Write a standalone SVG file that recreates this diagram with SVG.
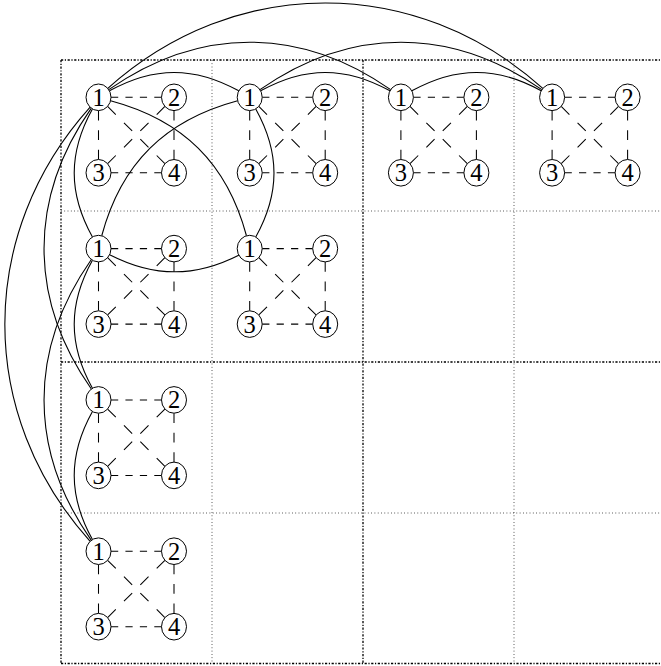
<svg xmlns="http://www.w3.org/2000/svg" width="661" height="666" viewBox="0 0 661 666">
<style>
.bg{fill:#ffffff}
.dashdot{fill:none;stroke:#000;stroke-width:1.3;stroke-dasharray:2.2 1.6 1.2 1.6}
.dotted{fill:none;stroke:#000;stroke-width:0.8;stroke-dasharray:0.8 2.5}
.arc{fill:none;stroke:#000;stroke-width:1.1}
.h{fill:none;stroke:#000;stroke-width:1.05;stroke-dasharray:7.214 7.214}
.v{fill:none;stroke:#000;stroke-width:1.05;stroke-dasharray:9.78 9.78}
.d{fill:none;stroke:#000;stroke-width:1.05;stroke-dasharray:11.57 11.57}
.node ellipse{fill:#ffffff;stroke:#000;stroke-width:1}
.node text{font-family:"Liberation Serif","DejaVu Serif",serif;font-size:24.5px;text-anchor:middle;fill:#000}
</style>
<rect class="bg" x="0" y="0" width="661" height="666"/>
<g id="grid">
<path class="dotted" d="M212,60 V663.5 M514,60 V663.5 M61,211 H665 M61,513 H665"/>
<path class="dashdot" d="M61,60 H665 M61,60 V663.5 M61,663.5 H665 M363,60 V663.5 M61,362 H665"/>
</g>
<g id="connectors">
<g id="arcs">
<path class="arc" d="M109.43,90.85 C153.71,66.30 194.49,66.30 238.77,90.85"/>
<path class="arc" d="M260.63,90.85 C304.91,66.30 345.69,66.30 389.97,90.85"/>
<path class="arc" d="M411.83,90.85 C456.11,66.30 496.89,66.30 541.17,90.85"/>
<path class="arc" d="M108.74,89.67 C199.15,26.36 300.25,26.36 390.66,89.67"/>
<path class="arc" d="M259.94,89.67 C350.35,26.36 451.45,26.36 541.86,89.67"/>
<path class="arc" d="M107.79,88.40 C234.35,-25.56 416.25,-25.56 542.81,88.40"/>
<path class="arc" d="M92.44,108.93 C68.14,152.77 68.14,193.13 92.44,236.97"/>
<path class="arc" d="M92.44,260.23 C68.14,304.07 68.14,344.43 92.44,388.27"/>
<path class="arc" d="M92.44,411.53 C68.14,455.37 68.14,495.73 92.44,539.57"/>
<path class="arc" d="M91.33,108.19 C28.27,198.25 28.27,298.95 91.33,389.01"/>
<path class="arc" d="M91.33,259.49 C28.27,349.55 28.27,450.25 91.33,540.31"/>
<path class="arc" d="M90.14,107.18 C-23.59,233.48 -23.59,415.02 90.14,541.32"/>
<path class="arc" d="M109.64,254.64 C154.61,277.55 194.79,277.55 239.76,254.64"/>
<path class="arc" d="M255.76,108.93 C280.06,152.77 280.06,193.13 255.76,236.97"/>
<path class="arc" d="M110.58,100.74 C183.02,120.16 227.04,163.31 246.46,235.75"/>
<path class="arc" d="M237.62,100.74 C165.18,120.16 121.16,163.31 101.74,235.75"/>
</g>
<g id="dash-g00" transform="translate(98.5,97.3)">
<path class="h" d="M12.5,0 H63"/><path class="h" d="M12.5,75.5 H63"/>
<path class="v" d="M0,13.3 V62.2"/><path class="v" d="M75.5,13.3 V62.2"/>
<path class="d" d="M9.11,9.11 L66.39,66.39"/><path class="d" d="M66.39,9.11 L9.11,66.39"/>
</g>
<g id="dash-g10" transform="translate(249.7,97.3)">
<path class="h" d="M12.5,0 H63"/><path class="h" d="M12.5,75.5 H63"/>
<path class="v" d="M0,13.3 V62.2"/><path class="v" d="M75.5,13.3 V62.2"/>
<path class="d" d="M9.11,9.11 L66.39,66.39"/><path class="d" d="M66.39,9.11 L9.11,66.39"/>
</g>
<g id="dash-g20" transform="translate(400.9,97.3)">
<path class="h" d="M12.5,0 H63"/><path class="h" d="M12.5,75.5 H63"/>
<path class="v" d="M0,13.3 V62.2"/><path class="v" d="M75.5,13.3 V62.2"/>
<path class="d" d="M9.11,9.11 L66.39,66.39"/><path class="d" d="M66.39,9.11 L9.11,66.39"/>
</g>
<g id="dash-g30" transform="translate(552.1,97.3)">
<path class="h" d="M12.5,0 H63"/><path class="h" d="M12.5,75.5 H63"/>
<path class="v" d="M0,13.3 V62.2"/><path class="v" d="M75.5,13.3 V62.2"/>
<path class="d" d="M9.11,9.11 L66.39,66.39"/><path class="d" d="M66.39,9.11 L9.11,66.39"/>
</g>
<g id="dash-g01" transform="translate(98.5,248.6)">
<path class="h" d="M12.5,0 H63"/><path class="h" d="M12.5,75.5 H63"/>
<path class="v" d="M0,13.3 V62.2"/><path class="v" d="M75.5,13.3 V62.2"/>
<path class="d" d="M9.11,9.11 L66.39,66.39"/><path class="d" d="M66.39,9.11 L9.11,66.39"/>
</g>
<g id="dash-g11" transform="translate(249.7,248.6)">
<path class="h" d="M12.5,0 H63"/><path class="h" d="M12.5,75.5 H63"/>
<path class="v" d="M0,13.3 V62.2"/><path class="v" d="M75.5,13.3 V62.2"/>
<path class="d" d="M9.11,9.11 L66.39,66.39"/><path class="d" d="M66.39,9.11 L9.11,66.39"/>
</g>
<g id="dash-g02" transform="translate(98.5,399.9)">
<path class="h" d="M12.5,0 H63"/><path class="h" d="M12.5,75.5 H63"/>
<path class="v" d="M0,13.3 V62.2"/><path class="v" d="M75.5,13.3 V62.2"/>
<path class="d" d="M9.11,9.11 L66.39,66.39"/><path class="d" d="M66.39,9.11 L9.11,66.39"/>
</g>
<g id="dash-g03" transform="translate(98.5,551.2)">
<path class="h" d="M12.5,0 H63"/><path class="h" d="M12.5,75.5 H63"/>
<path class="v" d="M0,13.3 V62.2"/><path class="v" d="M75.5,13.3 V62.2"/>
<path class="d" d="M9.11,9.11 L66.39,66.39"/><path class="d" d="M66.39,9.11 L9.11,66.39"/>
</g>
</g>
<g id="nodes">
<g id="g00-n1" class="node" transform="translate(98.5,97.3)"><ellipse rx="12.5" ry="13.3"/><text y="8.5">1</text></g>
<g id="g00-n2" class="node" transform="translate(174,97.3)"><ellipse rx="12.5" ry="13.3"/><text y="8.5">2</text></g>
<g id="g00-n3" class="node" transform="translate(98.5,172.8)"><ellipse rx="12.5" ry="13.3"/><text y="8.5">3</text></g>
<g id="g00-n4" class="node" transform="translate(174,172.8)"><ellipse rx="12.5" ry="13.3"/><text y="8.5">4</text></g>
<g id="g10-n1" class="node" transform="translate(249.7,97.3)"><ellipse rx="12.5" ry="13.3"/><text y="8.5">1</text></g>
<g id="g10-n2" class="node" transform="translate(325.2,97.3)"><ellipse rx="12.5" ry="13.3"/><text y="8.5">2</text></g>
<g id="g10-n3" class="node" transform="translate(249.7,172.8)"><ellipse rx="12.5" ry="13.3"/><text y="8.5">3</text></g>
<g id="g10-n4" class="node" transform="translate(325.2,172.8)"><ellipse rx="12.5" ry="13.3"/><text y="8.5">4</text></g>
<g id="g20-n1" class="node" transform="translate(400.9,97.3)"><ellipse rx="12.5" ry="13.3"/><text y="8.5">1</text></g>
<g id="g20-n2" class="node" transform="translate(476.4,97.3)"><ellipse rx="12.5" ry="13.3"/><text y="8.5">2</text></g>
<g id="g20-n3" class="node" transform="translate(400.9,172.8)"><ellipse rx="12.5" ry="13.3"/><text y="8.5">3</text></g>
<g id="g20-n4" class="node" transform="translate(476.4,172.8)"><ellipse rx="12.5" ry="13.3"/><text y="8.5">4</text></g>
<g id="g30-n1" class="node" transform="translate(552.1,97.3)"><ellipse rx="12.5" ry="13.3"/><text y="8.5">1</text></g>
<g id="g30-n2" class="node" transform="translate(627.6,97.3)"><ellipse rx="12.5" ry="13.3"/><text y="8.5">2</text></g>
<g id="g30-n3" class="node" transform="translate(552.1,172.8)"><ellipse rx="12.5" ry="13.3"/><text y="8.5">3</text></g>
<g id="g30-n4" class="node" transform="translate(627.6,172.8)"><ellipse rx="12.5" ry="13.3"/><text y="8.5">4</text></g>
<g id="g01-n1" class="node" transform="translate(98.5,248.6)"><ellipse rx="12.5" ry="13.3"/><text y="8.5">1</text></g>
<g id="g01-n2" class="node" transform="translate(174,248.6)"><ellipse rx="12.5" ry="13.3"/><text y="8.5">2</text></g>
<g id="g01-n3" class="node" transform="translate(98.5,324.1)"><ellipse rx="12.5" ry="13.3"/><text y="8.5">3</text></g>
<g id="g01-n4" class="node" transform="translate(174,324.1)"><ellipse rx="12.5" ry="13.3"/><text y="8.5">4</text></g>
<g id="g11-n1" class="node" transform="translate(249.7,248.6)"><ellipse rx="12.5" ry="13.3"/><text y="8.5">1</text></g>
<g id="g11-n2" class="node" transform="translate(325.2,248.6)"><ellipse rx="12.5" ry="13.3"/><text y="8.5">2</text></g>
<g id="g11-n3" class="node" transform="translate(249.7,324.1)"><ellipse rx="12.5" ry="13.3"/><text y="8.5">3</text></g>
<g id="g11-n4" class="node" transform="translate(325.2,324.1)"><ellipse rx="12.5" ry="13.3"/><text y="8.5">4</text></g>
<g id="g02-n1" class="node" transform="translate(98.5,399.9)"><ellipse rx="12.5" ry="13.3"/><text y="8.5">1</text></g>
<g id="g02-n2" class="node" transform="translate(174,399.9)"><ellipse rx="12.5" ry="13.3"/><text y="8.5">2</text></g>
<g id="g02-n3" class="node" transform="translate(98.5,475.4)"><ellipse rx="12.5" ry="13.3"/><text y="8.5">3</text></g>
<g id="g02-n4" class="node" transform="translate(174,475.4)"><ellipse rx="12.5" ry="13.3"/><text y="8.5">4</text></g>
<g id="g03-n1" class="node" transform="translate(98.5,551.2)"><ellipse rx="12.5" ry="13.3"/><text y="8.5">1</text></g>
<g id="g03-n2" class="node" transform="translate(174,551.2)"><ellipse rx="12.5" ry="13.3"/><text y="8.5">2</text></g>
<g id="g03-n3" class="node" transform="translate(98.5,626.7)"><ellipse rx="12.5" ry="13.3"/><text y="8.5">3</text></g>
<g id="g03-n4" class="node" transform="translate(174,626.7)"><ellipse rx="12.5" ry="13.3"/><text y="8.5">4</text></g>
</g>
</svg>
